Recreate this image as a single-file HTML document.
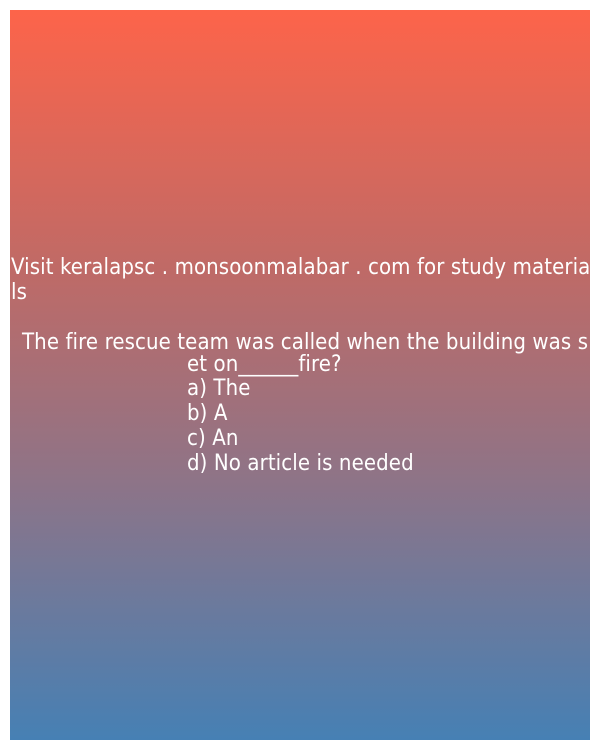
<!DOCTYPE html>
<html><head><meta charset="utf-8"><style>
html,body{margin:0;padding:0;background:#fff;width:600px;height:750px;overflow:hidden}
#card{position:absolute;left:10px;top:10px;width:580px;height:730px;background:linear-gradient(to bottom,#fd644a,#c06a66 35%,#8d7488 65%,#4680b4)}
.t{position:absolute;color:#fff;font-family:"DejaVu Sans Condensed","DejaVu Sans",sans-serif;font-stretch:condensed;font-size:22px;line-height:24px;white-space:nowrap;letter-spacing:0.1px}
</style></head><body>
<div id="card"></div>
<div class="t" style="left:11px;top:256px">Visit keralapsc . monsoonmalabar . com for study materia</div>
<div class="t" style="left:11px;top:281px">ls</div>
<div class="t" style="left:22px;top:331px">The fire rescue team was called when the building was s</div>
<div class="t" style="left:187px;top:353px">et on______fire?</div>
<div class="t" style="left:187px;top:377px">a) The</div>
<div class="t" style="left:187px;top:402px">b) A</div>
<div class="t" style="left:187px;top:427px">c) An</div>
<div class="t" style="left:187px;top:452px">d) No article is needed</div>
</body></html>
